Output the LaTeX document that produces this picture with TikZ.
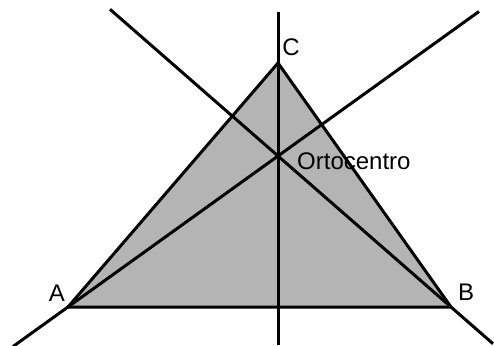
\documentclass[tikz,border=0pt]{standalone}
\usepackage{fontspec}
\setmainfont{Liberation Sans}
\definecolor{trifill}{RGB}{180,180,180}
\begin{document}
\begin{tikzpicture}[x=1pt,y=-1pt,
  ln/.style={line width=3pt,black},
  lbl/.style={font=\fontsize{24}{26}\selectfont,inner sep=0pt}]
\useasboundingbox (0,0) rectangle (494,345);
\coordinate (A) at (68,307);
\coordinate (B) at (451,307);
\coordinate (C) at (278,63);
\coordinate (H) at (278,156);
\coordinate (Vt) at (278,12);
\coordinate (Vb) at (278,345);
\coordinate (At) at (479,11.5);
\coordinate (Ab) at (13,346.5);
\coordinate (Bt) at (110,9.3);
\coordinate (Bb) at (493,343.7);
\fill[trifill] (A) -- (B) -- (C) -- cycle;
\draw[ln,line join=round] (A) -- (B) -- (C) -- cycle;
\draw[ln] (Vt) -- (Vb);
\draw[ln] (Ab) -- (At);
\draw[ln] (Bb) -- (Bt);
\node[lbl] (la) at (57,293) {A};
\node[lbl] (lb) at (466,292) {B};
\node[lbl] (lc) at (291,47) {C};
\node[lbl,anchor=west] (lh) at (297,161) {Ortocentro};
\end{tikzpicture}
\end{document}
